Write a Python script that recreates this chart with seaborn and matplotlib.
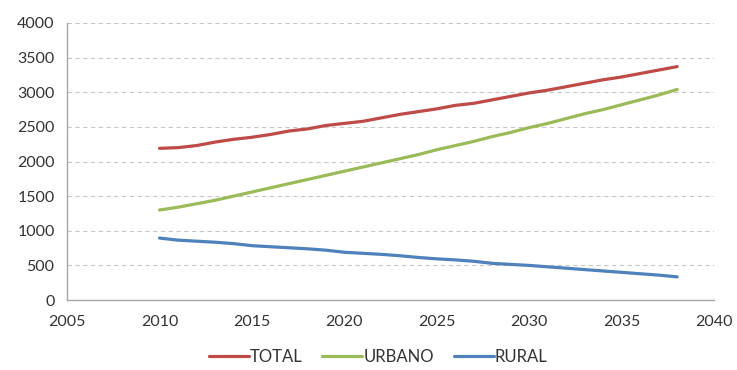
import matplotlib
matplotlib.use("Agg")
import matplotlib.pyplot as plt
import pandas as pd
import seaborn as sns

years = list(range(2010, 2039))
total = [2190, 2200, 2230, 2280, 2320, 2350, 2390, 2440, 2470, 2520,
         2550, 2580, 2630, 2680, 2720, 2760, 2810, 2840, 2890, 2940,
         2990, 3030, 3080, 3130, 3180, 3220, 3270, 3320, 3370]
urbano = [1300, 1340, 1390, 1440, 1500, 1560, 1620, 1680, 1740, 1800,
          1860, 1920, 1980, 2040, 2100, 2170, 2230, 2290, 2360, 2420,
          2490, 2550, 2620, 2690, 2750, 2820, 2890, 2960, 3040]
rural = [895, 865, 850, 835, 815, 785, 770, 755, 740, 720,
         690, 675, 660, 640, 615, 595, 580, 560, 530, 515,
         500, 480, 460, 440, 420, 400, 380, 360, 335]
series_names = ["TOTAL", "URBANO", "RURAL"]
colors = ["#BE4B48", "#9BBB59", "#4F81BD"]
x_ticks = [2005, 2010, 2015, 2020, 2025, 2030, 2035, 2040]
y_ticks = [0, 500, 1000, 1500, 2000, 2500, 3000, 3500, 4000]

df = pd.DataFrame({"year": years, "TOTAL": total, "URBANO": urbano, "RURAL": rural})
long = df.melt(id_vars="year", var_name="serie", value_name="valor")

sns.set_style("white")
plt.rcParams["font.family"] = ["Lato", "DejaVu Sans"]

fig = plt.figure(figsize=(7.37, 3.70), dpi=100)
ax = fig.add_axes([0.091, 0.189, 0.878, 0.749])

sns.lineplot(data=long, x="year", y="valor", hue="serie", hue_order=series_names,
             palette=colors, linewidth=2.3, ax=ax, legend=False)

ax.set_xlim(2005, 2040)
ax.set_ylim(0, 4000)
ax.set_xticks(x_ticks)
ax.set_yticks(y_ticks)
ax.set_xlabel("")
ax.set_ylabel("")
ax.yaxis.grid(True, linestyle=(0, (4, 3)), color="#C8C8C8", linewidth=0.8)
ax.xaxis.grid(False)

for side in ("top", "right"):
    ax.spines[side].set_visible(False)
for side in ("left", "bottom"):
    ax.spines[side].set_color("#A6A6A6")
    ax.spines[side].set_linewidth(1.0)

ax.tick_params(axis="both", which="both", direction="out", length=5, width=1,
               color="#A6A6A6", labelsize=11.5, labelcolor="#333333")
ax.tick_params(axis="x", pad=6)
ax.tick_params(axis="y", pad=4)

handles = [plt.Line2D([], [], color=c, linewidth=2.3) for c in colors]
fig.legend(handles, series_names, loc="center", bbox_to_anchor=(0.513, 0.035),
           ncol=3, frameon=False, fontsize=12, handlelength=2.4,
           handletextpad=0.05, columnspacing=1.2, labelcolor="#333333")

fig.savefig("out.png", dpi=100, facecolor="white")
